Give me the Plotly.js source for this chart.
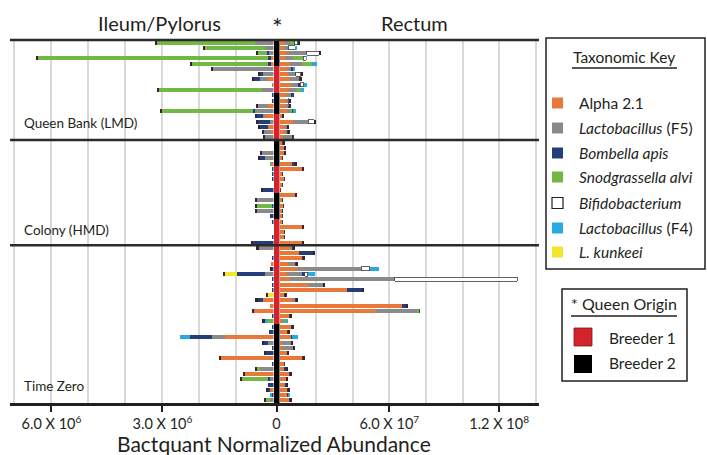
<!DOCTYPE html>
<html><head><meta charset="utf-8">
<script src="https://cdn.plot.ly/plotly-3.0.1.min.js"></script>
<style>html,body{margin:0;padding:0;background:#fff}#chart{width:707px;height:455px}</style>
</head><body><div id="chart"></div>
<script>
// ---------- DATA (units: 1e6 normalized abundance) ----------
// rows 0-18 Queen Bank (LMD), 19-38 Colony (HMD), 39-68 Time Zero
const panels = ["Queen Bank (LMD)", "Colony (HMD)", "Time Zero"];
const queenOrigin = [
 "B2","B2","B2","B2","B2","B1","B1","B1","B1","B1","B2","B2","B2","B2","B1","B1","B1","B1","B1",
 "B2","B2","B2","B2","B2","B1","B1","B1","B1","B1","B2","B2","B2","B2","B2","B1","B1","B1","B1","B1",
 "B1","B1","B1","B1","B1","B1","B1","B1","B1","B1","B1","B1","B1","B1","B1",
 "B2","B2","B2","B2","B2","B2","B2","B2","B2","B2","B2","B2","B2","B2","B2"];

// Ileum / Pylorus (left)
const leftAlpha = [0,0,0,0.08,0.08,0,0,0.15,0,0,0,0,0.14,0,0.23,0,0.15,0.06,0,
 0,0,0,0,0.05,0,0,0,0,0,0,0,0,0,0,0,0,0,0,0,
 0,0,0,0.06,0,0,0,0,0,0,0.28,0.1,0.53,0,0,0,0,1.31,0,0,0,1.42,0,0,0.77,0,0,0.1,0,0];
const leftF5 = [0.5,0.23,0.12,0,0,1.63,0.28,0.22,0.05,0.3,0,0,0.27,0.5,0.05,0.1,0,0.2,0.22,
 0,0,0.3,0.22,0,0,0,0,0,0,0,0.45,0,0.45,0,0,0,0,0,0,
 0.4,0,0,0,0,0.22,0,0,0,0,0,0,0,0,0,0,0,0.35,0.15,0,0,0,0,0.36,0,0.1,0,0,0,0.1];
const leftBomb = [0,0,0.05,0.08,0.06,0,0.08,0.16,0,0,0.04,0.05,0,0.05,0.17,0.32,0.22,0,0,
 0,0,0,0.14,0,0.03,0.03,0.05,0,0.28,0,0,0.04,0,0.1,0.05,0,0,0.03,0.55,
 0,0,0.03,0,0.03,0.76,0.03,0.04,0.04,0,0.15,0,0,0.03,0,0.05,0.12,0.6,0.1,0.03,0.2,0,0.03,0,0,0.05,0.15,0.05,0.05,0];
const leftSnod = [2.65,1.62,0.24,6.2,2.05,0,0,0,0,2.8,0,0,0,2.46,0,0,0,0,0,
 0,0,0,0,0.05,0,0,0,0,0,0,0,0.4,0,0,0,0,0,0,0,
 0,0,0,0,0,0,0,0,0,0,0,0,0,0,0.16,0,0,0,0,0,0,0,0,0.08,0,0.7,0,0,0,0.1];
const leftF4 = [0,0,0,0,0,0,0,0,0,0,0,0,0,0,0,0,0,0,0,
 0,0,0,0,0,0,0,0,0,0,0,0,0,0,0,0,0,0,0,0,
 0,0,0,0,0,0,0,0,0,0,0,0,0,0,0.08,0,0,0.27,0,0,0,0,0,0,0,0,0,0,0.05,0];
const leftKunk = [0,0,0,0,0,0,0,0,0,0,0,0,0,0,0,0,0,0,0,
 0,0,0,0,0,0,0,0,0,0,0,0,0,0,0,0,0,0,0,0,
 0,0,0,0,0,0.32,0,0,0,0.14,0,0,0,0,0,0,0,0,0,0,0,0,0,0,0,0,0,0,0,0];
const leftOther = [0.06,0.06,0.06,0.06,0.06,0.06,0.06,0.06,0,0.06,0,0,0.06,0.06,0.06,0.06,0.06,0.06,0.06,
 0,0,0.06,0.06,0,0,0,0,0,0.06,0,0.06,0.06,0.06,0,0,0,0,0,0.06,
 0.06,0,0,0,0.06,0.06,0,0,0,0.06,0.06,0,0.06,0,0.06,0,0,0,0.06,0,0.06,0.06,0,0.06,0.06,0.06,0,0.06,0,0.06];

// Rectum (right)
const rightAlpha = [3,2.5,4.1,3,5.7,4,4.5,5.5,6.5,5,4.1,3.6,3.6,4.1,1.4,7.4,3,3,1.9,
 1.9,2.5,2.5,1.9,6.8,12.3,1.9,3,1.9,0.8,8.5,1.9,1.9,1.9,1.4,1.4,12.3,3,3,12.3,
 5.7,10.7,12.8,4.6,9.3,4.1,5.7,16.1,36.9,3,6.8,67,53,5.7,1.4,6.8,4.6,5.7,1.4,1.1,4.1,12.8,2.5,1.9,5.5,3.6,2.5,4.6,4.6,5.7];
const rightF5 = [2.7,2.2,10.9,4.4,6.6,2.2,4.4,5.5,3.8,4.6,2.2,1.1,1.1,1.6,0,8.2,1.1,1.6,4.9,
 0,0,0,0,0,0,0,0,0,0,0,0,0,0,0,0,0,0,0,0,
 1.6,0,0,4.4,35.5,8.2,57.4,7.7,0,0,2.2,0,22.4,0,1.1,0,0,1,4.9,6.3,0,0,0,0.5,0,0,1,0,0,0];
const rightBomb = [0,0,0,0,0,1.1,0,0,1,0,1.1,0,0,0,0,0,0,0,1,
 0,0,0,0,1.6,0,0,0,0,0,0,0,0.5,0,0,0,0,0,0,0,
 0,7.7,0,0,0,1.5,0,0,8.2,0,0,2.2,0,0,0,0,0,0,0,0,0,0,0,1,0,0,0,0,0,0];
const rightSnod = [2.7,0,0,5.5,5.5,0,0,0,0,2.4,0,0,0,1.6,0,0,0,0,0,
 0,0,0,0,0,0,0,0,0,0,0,0,0,0,0,0,0,0,0,0,
 0,0,0,0,0,0,0,0,0,0,0,0,1,0,1.1,0,0,0,0,0,0,0,0,0,0,0,0,0,0,0];
const rightBif = [1.6,3.8,6.6,1.6,0,0,2.7,0,2,0,0,0.6,0.6,0,0,3.3,0,0,0,
 0,0,0,0,0,0,0,0,0,0,0,0,0,0,0,0,0,0,0,0,
 0,0,0,0,4.4,1.6,66.7,0,0,0,0,0,0,0,0,0,0,0,0,0,0,0,0,0,0,0,0,0,0,0];
const rightF4 = [0,1.1,0,0.6,2.7,1.1,0,0,1.5,1.3,0,0,0,1.6,0,0,0,0,0,
 0,0,0,0,0,0,0,0,0,0,0,0,0,0,0,0,0,0,0,0,
 0,0,0,0,4.9,3.8,0,0,0,0,0,0,0,0,1.1,0,0,3.3,0,0,0,0,0,0,0,0,0,0,1,0];
const rightOther = [1.1,0,1.1,0,0,0,1.1,1.1,0,0,0,1.1,1.1,0,1.1,1.1,1.1,1.1,0,
 1.1,1.1,1.1,0,1.1,1.1,0,0,0,0,1.1,0,0,0,0,0,1.1,0,0,1.1,
 1.1,1.1,1.1,1.1,0,0,0,1.1,1.1,1.1,1.1,1.1,0,1.1,0,1.1,1.1,0,1.1,1.1,1.1,1.1,0,1.1,1.1,1.1,1.1,1.1,0,1.1];

const taxa = ["Alpha 2.1","<i>Lactobacillus</i> (F5)","<i>Bombella apis</i>","<i>Snodgrassella alvi</i>",
              "<i>Bifidobacterium</i>","<i>Lactobacillus</i> (F4)","<i>L. kunkeei</i>"];
const leftTicks = [3, 6], leftTickText = ["3.0 X 10<sup>6</sup>", "6.0 X 10<sup>6</sup>"];
const rightTicks = [60, 120], rightTickText = ["6.0 X 10<sup>7</sup>", "1.2 X 10<sup>8</sup>"];

// ---------- STYLE ----------
const COL = {alpha:"#e8793a", f5:"#8a8a8a", bomb:"#243e7c", snod:"#72b844", bif:"#ffffff",
             f4:"#29a9e1", kunk:"#f3e42e", other:"#3a2030", b1:"#d5232b", b2:"#000000"};
const FONT = "Lato, 'Open Sans', sans-serif";
const INK = "#231f20";
const rows = queenOrigin.map((_, i) => i);
const W = 707, H = 455, L = 10, R = 539, T = 40, B = 403;
const X = p => (p - L) / (R - L), Y = p => (B - p) / (B - T);
const dL = X(273.5), dR = X(279.5);
const BW = 0.76;

function bar(vals, color, xa, name, line) {
  return {type:"bar", orientation:"h", x:vals, y:rows, xaxis:xa, yaxis:"y", name:name,
    width:BW, marker:{color:color, line:line || {width:0}}, hoverinfo:"skip"};
}
const bifLine = {color:"#3a3a3a", width:0.8};
const traces = [
  bar(leftAlpha, COL.alpha, "x", "Alpha 2.1"),
  bar(leftF5, COL.f5, "x", "F5"),
  bar(leftBomb, COL.bomb, "x", "Bombella"),
  bar(leftSnod, COL.snod, "x", "Snod"),
  bar(leftF4, COL.f4, "x", "F4"),
  bar(leftKunk, COL.kunk, "x", "kunkeei"),
  bar(leftOther, COL.other, "x", "other"),
  bar(rightAlpha, COL.alpha, "x2", "Alpha 2.1"),
  bar(rightF5, COL.f5, "x2", "F5"),
  bar(rightBomb, COL.bomb, "x2", "Bombella"),
  bar(rightSnod, COL.snod, "x2", "Snod"),
  bar(rightBif, COL.bif, "x2", "Bifido", bifLine),
  bar(rightF4, COL.f4, "x2", "F4"),
  bar(rightOther, COL.other, "x2", "other"),
  {type:"bar", orientation:"h", x:rows.map(() => 1), y:rows, xaxis:"x3", yaxis:"y", width:1,
   marker:{color:queenOrigin.map(q => q === "B1" ? COL.b1 : COL.b2), line:{width:0}}, hoverinfo:"skip"}
];

const gridC = "#d9d9d9";
const axBase = {anchor:"y", ticks:"outside", ticklen:6, tickwidth:2, tickcolor:INK,
  showline:true, linewidth:2.5, linecolor:INK, zeroline:false, fixedrange:true,
  showgrid:true, gridcolor:gridC, gridwidth:2, tickfont:{size:14.5, color:INK, family:FONT}};

const ann = [];
function txt(t, x, y, size, xanchor, extra) {
  ann.push(Object.assign({text:t, xref:"paper", yref:"paper", x:X(x), y:Y(y), showarrow:false,
    xanchor:xanchor || "center", yanchor:"middle", font:{size:size, color:INK, family:FONT}}, extra || {}));
}
txt("Ileum/Pylorus", 159, 23, 20);
txt("*", 277, 27, 25);
txt("Rectum", 414, 23, 20);
txt("Bactquant Normalized Abundance", 274, 444, 21);
txt(panels[0], 22, 123, 13.5, "left");
txt(panels[1], 22, 230, 13.5, "left");
txt(panels[2], 22, 386, 13.5, "left");
txt("Taxonomic Key", 624, 57, 15.5);
const itemY = [103, 128, 153, 177, 203, 228, 252];
const itemC = [COL.alpha, COL.f5, COL.bomb, COL.snod, COL.bif, COL.f4, COL.kunk];
taxa.forEach((t, i) => txt(t, 577, itemY[i], 15.5, "left"));
txt("* Queen Origin", 624, 303, 16);
txt("Breeder 1", 607, 338, 15.5, "left");
txt("Breeder 2", 607, 363, 15.5, "left");

const shapes = [];
function rect(x0, y0, x1, y1, fill, line) {
  shapes.push({type:"rect", xref:"paper", yref:"paper", x0:X(x0), x1:X(x1), y0:Y(y1), y1:Y(y0),
    fillcolor:fill, line:line || {width:0}});
}
function hline(x0, x1, y, w) {
  shapes.push({type:"line", xref:"paper", yref:"paper", x0:X(x0), x1:X(x1), y0:Y(y), y1:Y(y),
    line:{color:INK, width:w}});
}
// panel separators and top line
shapes.push({type:"line", xref:"paper", yref:"y", x0:0, x1:1, y0:18.5, y1:18.5, line:{color:"#2b2b2b", width:2.5}});
shapes.push({type:"line", xref:"paper", yref:"y", x0:0, x1:1, y0:38.5, y1:38.5, line:{color:"#2b2b2b", width:2.5}});
shapes.push({type:"line", xref:"paper", yref:"paper", x0:0, x1:1, y0:1, y1:1, line:{color:"#2b2b2b", width:2.5}});
// legend boxes
rect(546, 38, 705, 269, "rgba(0,0,0,0)", {color:INK, width:1.5});
hline(572, 677, 68, 1.5);
itemY.forEach((y, i) => rect(552, y - 5.5, 563, y + 5.5, itemC[i],
  i === 4 ? {color:INK, width:1.2} : {width:0}));
rect(562, 289, 687, 381, "rgba(0,0,0,0)", {color:INK, width:1.5});
hline(571, 677, 316, 1.5);
rect(574, 328, 592, 346, COL.b1, {color:"#7a1a1a", width:0.8});
rect(574, 355, 592, 373, COL.b2);

const layout = {
  width:W, height:H, margin:{l:L, r:W - R, t:T, b:H - B, pad:0},
  paper_bgcolor:"#ffffff", plot_bgcolor:"#ffffff", showlegend:false,
  barmode:"stack", bargap:0, font:{family:FONT, color:INK},
  xaxis:Object.assign({}, axBase, {domain:[0, dL], range:[7.12, 0], tickvals:leftTicks, ticktext:leftTickText,
    minor:{tickvals:[1, 2, 4, 5, 7], showgrid:true, gridcolor:gridC, gridwidth:2}}),
  xaxis2:Object.assign({}, axBase, {domain:[dR, 1], range:[0, 141.8], tickvals:rightTicks, ticktext:rightTickText,
    minor:{tickvals:[20, 40, 80, 100, 140], showgrid:true, gridcolor:gridC, gridwidth:2}}),
  xaxis3:Object.assign({}, axBase, {domain:[dL, dR], range:[0, 1], tickvals:[0.5], ticktext:["0"], showgrid:false}),
  yaxis:{range:[68.5, -0.5], visible:false, fixedrange:true},
  annotations:ann, shapes:shapes
};
Plotly.newPlot("chart", traces, layout, {staticPlot:true, displayModeBar:false});
</script>
</body></html>
